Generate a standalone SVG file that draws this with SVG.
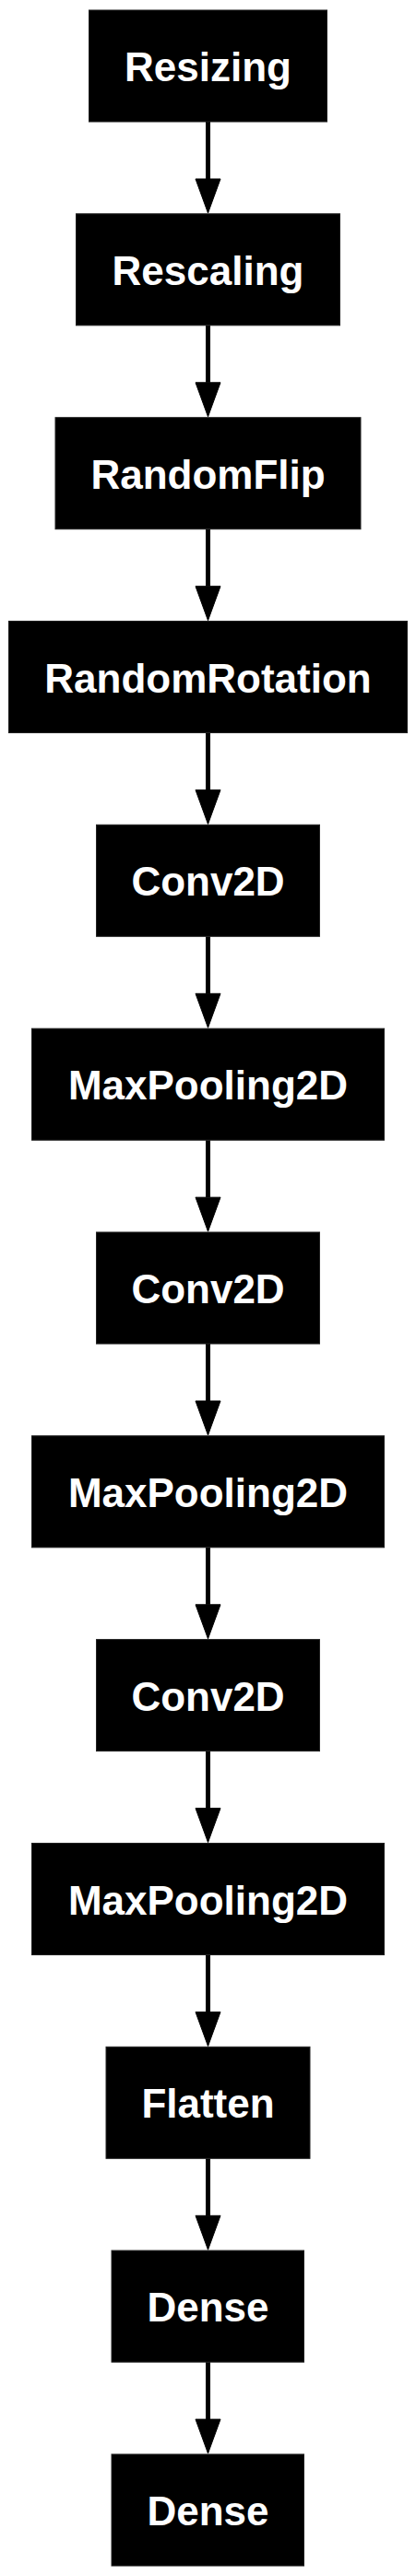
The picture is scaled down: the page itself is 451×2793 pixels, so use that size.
<svg xmlns="http://www.w3.org/2000/svg" width="451" height="2793" viewBox="0 0 451 2793">
<style>
.box{fill:#000;stroke:#222;stroke-width:1}
.lbl{fill:#fff;font-family:"Liberation Sans",Arial,sans-serif;font-weight:bold;font-size:44px;text-anchor:middle}
.shaft{stroke:#000;stroke-width:5;fill:none}
.head{fill:#000;stroke:#000;stroke-width:1}
</style>
<rect width="451" height="2793" fill="#fff"/>
<g id="connectors">
<line class="shaft" x1="225.5" y1="132" x2="225.5" y2="194"/><polygon class="head" points="212,194 239,194 225.5,231"/>
<line class="shaft" x1="225.5" y1="352.8" x2="225.5" y2="414.8"/><polygon class="head" points="212,414.8 239,414.8 225.5,451.8"/>
<line class="shaft" x1="225.5" y1="573.7" x2="225.5" y2="635.7"/><polygon class="head" points="212,635.7 239,635.7 225.5,672.7"/>
<line class="shaft" x1="225.5" y1="794.5" x2="225.5" y2="856.5"/><polygon class="head" points="212,856.5 239,856.5 225.5,893.5"/>
<line class="shaft" x1="225.5" y1="1015.3" x2="225.5" y2="1077.3"/><polygon class="head" points="212,1077.3 239,1077.3 225.5,1114.3"/>
<line class="shaft" x1="225.5" y1="1236.2" x2="225.5" y2="1298.2"/><polygon class="head" points="212,1298.2 239,1298.2 225.5,1335.2"/>
<line class="shaft" x1="225.5" y1="1457" x2="225.5" y2="1519"/><polygon class="head" points="212,1519 239,1519 225.5,1556"/>
<line class="shaft" x1="225.5" y1="1677.8" x2="225.5" y2="1739.8"/><polygon class="head" points="212,1739.8 239,1739.8 225.5,1776.8"/>
<line class="shaft" x1="225.5" y1="1898.6" x2="225.5" y2="1960.6"/><polygon class="head" points="212,1960.6 239,1960.6 225.5,1997.6"/>
<line class="shaft" x1="225.5" y1="2119.5" x2="225.5" y2="2181.5"/><polygon class="head" points="212,2181.5 239,2181.5 225.5,2218.5"/>
<line class="shaft" x1="225.5" y1="2340.3" x2="225.5" y2="2402.3"/><polygon class="head" points="212,2402.3 239,2402.3 225.5,2439.3"/>
<line class="shaft" x1="225.5" y1="2561.1" x2="225.5" y2="2623.1"/><polygon class="head" points="212,2623.1 239,2623.1 225.5,2660.1"/>
</g>
<g id="n0"><rect class="box" x="96.5" y="11" width="258" height="121"/><text class="lbl" x="225.5" y="88">Resizing</text></g>
<g id="n1"><rect class="box" x="82.5" y="231.8" width="286" height="121"/><text class="lbl" x="225.5" y="308.8">Rescaling</text></g>
<g id="n2"><rect class="box" x="60" y="452.7" width="331" height="121"/><text class="lbl" x="225.5" y="529.7">RandomFlip</text></g>
<g id="n3"><rect class="box" x="9.5" y="673.5" width="432" height="121"/><text class="lbl" x="225.5" y="750.5">RandomRotation</text></g>
<g id="n4"><rect class="box" x="104.5" y="894.3" width="242" height="121"/><text class="lbl" x="225.5" y="971.3">Conv2D</text></g>
<g id="n5"><rect class="box" x="34.5" y="1115.2" width="382" height="121"/><text class="lbl" x="225.5" y="1192.2">MaxPooling2D</text></g>
<g id="n6"><rect class="box" x="104.5" y="1336" width="242" height="121"/><text class="lbl" x="225.5" y="1413">Conv2D</text></g>
<g id="n7"><rect class="box" x="34.5" y="1556.8" width="382" height="121"/><text class="lbl" x="225.5" y="1633.8">MaxPooling2D</text></g>
<g id="n8"><rect class="box" x="104.5" y="1777.6" width="242" height="121"/><text class="lbl" x="225.5" y="1854.6">Conv2D</text></g>
<g id="n9"><rect class="box" x="34.5" y="1998.5" width="382" height="121"/><text class="lbl" x="225.5" y="2075.5">MaxPooling2D</text></g>
<g id="n10"><rect class="box" x="115" y="2219.3" width="221" height="121"/><text class="lbl" x="225.5" y="2296.3">Flatten</text></g>
<g id="n11"><rect class="box" x="121" y="2440.1" width="208.5" height="121"/><text class="lbl" x="225.5" y="2517.1">Dense</text></g>
<g id="n12"><rect class="box" x="121" y="2661" width="208.5" height="121"/><text class="lbl" x="225.5" y="2738">Dense</text></g>
</svg>
